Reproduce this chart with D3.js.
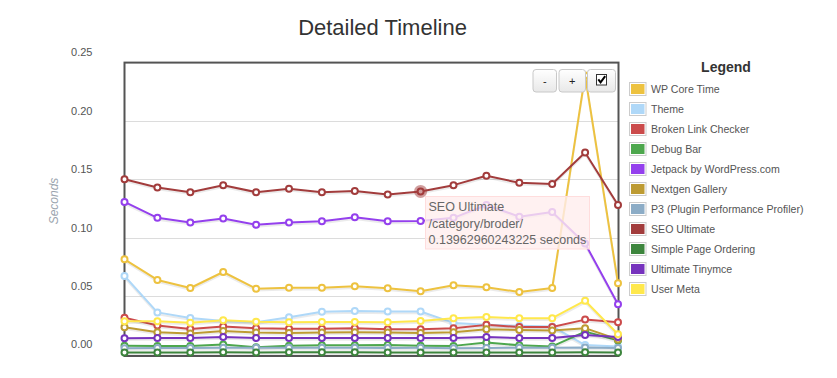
<!DOCTYPE html>
<html>
<head>
<meta charset="utf-8">
<script src="https://cdnjs.cloudflare.com/ajax/libs/d3/7.8.5/d3.min.js"></script>
<style>
  html, body { margin: 0; padding: 0; background: #fff; }
  svg { display: block; font-family: "Liberation Sans", Arial, sans-serif; }
</style>
</head>
<body>
<svg id="chart" width="837" height="378"></svg>
<script>
// ---- data ----
const pageIndex = [0, 1, 2, 3, 4, 5, 6, 7, 8, 9, 10, 11, 12, 13, 14, 15];
const seriesNames = ["WP Core Time", "Theme", "Broken Link Checker", "Debug Bar",
  "Jetpack by WordPress.com", "Nextgen Gallery", "P3 (Plugin Performance Profiler)",
  "SEO Ultimate", "Simple Page Ordering", "Ultimate Tinymce", "User Meta"];
const seriesColors = ["#edc240", "#afd8f8", "#cb4b4b", "#4da74d", "#9440ed", "#bd9b33",
  "#8cacc6", "#a23c3c", "#3d853d", "#7633bd", "#ffe84c"];
const wpCore     = [0.0815, 0.0638, 0.0569, 0.0706, 0.0563, 0.0572, 0.0572, 0.0584, 0.0567, 0.0541, 0.0592, 0.0575, 0.0535, 0.0569, 0.2390, 0.0610];
const theme      = [0.0672, 0.0360, 0.0312, 0.0287, 0.0276, 0.0318, 0.0366, 0.0372, 0.0367, 0.0367, 0.0270, 0.0255, 0.0245, 0.0240, 0.0080, 0.0067];
const brokenLink = [0.0315, 0.0247, 0.0218, 0.0238, 0.0224, 0.0220, 0.0220, 0.0224, 0.0216, 0.0216, 0.0224, 0.0253, 0.0235, 0.0235, 0.0298, 0.0275];
const debugBar   = [0.0075, 0.0073, 0.0073, 0.0085, 0.0062, 0.0075, 0.0078, 0.0078, 0.0080, 0.0075, 0.0073, 0.0101, 0.0078, 0.0068, 0.0195, 0.0120];
const jetpack    = [0.1306, 0.1170, 0.1130, 0.1165, 0.1110, 0.1130, 0.1140, 0.1175, 0.1140, 0.1142, 0.1170, 0.1280, 0.1180, 0.1220, 0.0950, 0.0430];
const nextgen    = [0.0233, 0.0190, 0.0180, 0.0200, 0.0187, 0.0184, 0.0187, 0.0190, 0.0187, 0.0184, 0.0190, 0.0216, 0.0210, 0.0205, 0.0225, 0.0128];
const p3         = [0.0053, 0.0055, 0.0055, 0.0057, 0.0056, 0.0057, 0.0056, 0.0056, 0.0055, 0.0056, 0.0053, 0.0054, 0.0058, 0.0056, 0.0060, 0.0055];
const seoUltimate= [0.1500, 0.1430, 0.1390, 0.1450, 0.1390, 0.1420, 0.1390, 0.1400, 0.1370, 0.13962960243225, 0.1450, 0.1530, 0.1470, 0.1460, 0.1730, 0.1280];
const simpleOrder= [0.0016, 0.0017, 0.0017, 0.0018, 0.0017, 0.0018, 0.0018, 0.0018, 0.0017, 0.0017, 0.0017, 0.0017, 0.0017, 0.0017, 0.0018, 0.0017];
const tinymce    = [0.0139, 0.0140, 0.0140, 0.0150, 0.0140, 0.0140, 0.0140, 0.0140, 0.0140, 0.0140, 0.0140, 0.0150, 0.0140, 0.0140, 0.0167, 0.0150];
const userMeta   = [0.0285, 0.0285, 0.0272, 0.0293, 0.0280, 0.0275, 0.0277, 0.0277, 0.0275, 0.0287, 0.0310, 0.0320, 0.0310, 0.0310, 0.0460, 0.0173];
const yTicks = [0, 0.05, 0.10, 0.15, 0.20, 0.25];
const yTickLabels = ["0.00", "0.05", "0.10", "0.15", "0.20", "0.25"];
const tooltipSeries = 7, tooltipPoint = 9;
const tooltipLines = ["SEO Ultimate", "/category/broder/", "0.13962960243225 seconds"];
const titleText = "Detailed Timeline";
const yAxisTitle = "Seconds";
const legendTitle = "Legend";
const zoomButtons = ["-", "+"];

const allValues = [wpCore, theme, brokenLink, debugBar, jetpack, nextgen, p3, seoUltimate, simpleOrder, tinymce, userMeta];

// ---- layout ----
const svg = d3.select("#chart");
const plot = { left: 124.5, right: 618.5, top: 62.6, bottom: 356 };
const x = d3.scaleLinear().domain([0, 15]).range([plot.left, plot.right - 0.5]);
const y = d3.scaleLinear().domain([0, 0.25]).range([354.4, 62.6]);

// title
svg.append("text").attr("x", 382.5).attr("y", 34.5).attr("text-anchor", "middle")
  .attr("font-size", 22).attr("fill", "#333").text(titleText);

// grid lines
svg.append("g").selectAll("line").data(yTicks.filter(t => t > 0 && t < 0.25)).join("line")
  .attr("x1", plot.left).attr("x2", plot.right)
  .attr("y1", d => Math.round(y(d)) + 0.5).attr("y2", d => Math.round(y(d)) + 0.5)
  .attr("stroke", "#dcdcdc").attr("stroke-width", 1);

// y tick labels (flot style: placed above the grid line)
svg.append("g").selectAll("text").data(yTicks).join("text")
  .attr("x", 92.5).attr("y", d => y(d) - 10).attr("dy", "0.35em")
  .attr("text-anchor", "end").attr("font-size", 11).attr("fill", "#545454")
  .text((d, i) => yTickLabels[i]);

// y axis title
svg.append("text").attr("transform", "translate(58,201) rotate(-90)")
  .attr("text-anchor", "middle").attr("font-size", 12).attr("font-style", "italic")
  .attr("fill", "#9aa4ae").text(yAxisTitle);

// clip
svg.append("defs").append("clipPath").attr("id", "clip").append("rect")
  .attr("x", plot.left).attr("y", plot.top).attr("width", plot.right - plot.left).attr("height", plot.bottom - plot.top);

// plot border (drawn under series so end points overlap it)
svg.append("rect").attr("x", plot.left).attr("y", plot.top)
  .attr("width", plot.right - plot.left).attr("height", plot.bottom - plot.top)
  .attr("fill", "none").attr("stroke", "#545454").attr("stroke-width", 2);

const line = d3.line().x((d, i) => x(pageIndex[i])).y(d => y(d));
const gSeries = svg.append("g").attr("clip-path", "url(#clip)");

allValues.forEach((vals, si) => {
  const g = gSeries.append("g");
  g.append("path").attr("d", line(vals)).attr("fill", "none")
    .attr("stroke", "rgba(0,0,0,0.08)").attr("stroke-width", 2)
    .attr("transform", "translate(0,1.8)").attr("stroke-linejoin", "round");
  g.append("path").attr("d", line(vals)).attr("fill", "none")
    .attr("stroke", seriesColors[si]).attr("stroke-width", 2).attr("stroke-linejoin", "round");
});
const gPoints = svg.append("g");
allValues.forEach((vals, si) => {
  gPoints.append("g").selectAll("circle").data(vals).join("circle")
    .attr("cx", (d, i) => x(pageIndex[i])).attr("cy", d => y(d)).attr("r", 3)
    .attr("fill", "#fff").attr("stroke", seriesColors[si]).attr("stroke-width", 2);
});

// highlighted point
svg.append("circle")
  .attr("cx", x(pageIndex[tooltipPoint])).attr("cy", y(allValues[tooltipSeries][tooltipPoint]))
  .attr("r", 6.5).attr("fill", "rgba(162,60,60,0.5)");

// tooltip
const tip = svg.append("g").attr("transform", "translate(425.5,196.5)");
tip.append("rect").attr("width", 164).attr("height", 52.5)
  .attr("fill", "rgba(255,238,238,0.8)").attr("stroke", "#fdd").attr("stroke-width", 1);
tip.selectAll("text").data(tooltipLines).join("text")
  .attr("x", 3).attr("y", (d, i) => 10.5 + i * 16.2).attr("dy", "0.35em")
  .attr("font-size", 12.5).attr("fill", "#666").text(d => d);

// zoom buttons
const btnDefs = svg.append("defs");
const grad = btnDefs.append("linearGradient").attr("id", "btnGrad").attr("x1", 0).attr("y1", 0).attr("x2", 0).attr("y2", 1);
grad.append("stop").attr("offset", "0%").attr("stop-color", "#ffffff");
grad.append("stop").attr("offset", "100%").attr("stop-color", "#e8e8e8");
const btnX = [533, 559, 587.5];
const btnW = [23.5, 26.5, 28];
const btns = svg.append("g");
btnX.forEach((bx, i) => {
  btns.append("rect").attr("x", bx).attr("y", 69.5).attr("width", btnW[i]).attr("height", 22.5)
    .attr("rx", 3).attr("fill", "url(#btnGrad)").attr("stroke", "#c8c8c8").attr("stroke-width", 1);
});
zoomButtons.forEach((t, i) => {
  btns.append("text").attr("x", btnX[i] + btnW[i] / 2).attr("y", 81).attr("dy", "0.35em")
    .attr("text-anchor", "middle").attr("font-size", 11).attr("fill", "#222").text(t);
});
// checkbox
btns.append("rect").attr("x", 596.5).attr("y", 74.5).attr("width", 10).attr("height", 10.5)
  .attr("fill", "#fff").attr("stroke", "#333").attr("stroke-width", 1);
btns.append("path").attr("d", "M598.3,79.3 L600.6,82.3 L605.2,76.2")
  .attr("fill", "none").attr("stroke", "#000").attr("stroke-width", 2);

// legend
svg.append("text").attr("x", 726).attr("y", 71.7).attr("text-anchor", "middle")
  .attr("font-size", 14).attr("font-weight", "bold").attr("fill", "#333").text(legendTitle);
const lg = svg.append("g").selectAll("g").data(seriesNames).join("g")
  .attr("transform", (d, i) => `translate(0,${89 + i * 20})`);
lg.append("rect").attr("x", 629.5).attr("y", -6.5).attr("width", 16.5).attr("height", 13)
  .attr("fill", "#fff").attr("stroke", "#ccc").attr("stroke-width", 1);
lg.append("rect").attr("x", 631).attr("y", -5).attr("width", 13.5).attr("height", 10)
  .attr("fill", (d, i) => seriesColors[i]);
lg.append("text").attr("x", 651).attr("y", 0).attr("dy", "0.35em")
  .attr("font-size", 10.6).attr("fill", "#545454").text(d => d);
</script>
</body>
</html>
